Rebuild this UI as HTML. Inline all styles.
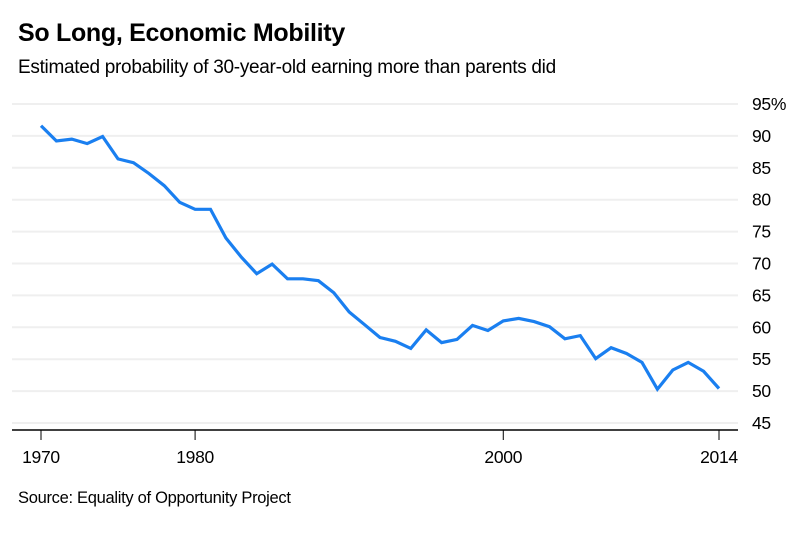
<!DOCTYPE html>
<html><head><meta charset="utf-8"><style>
body{margin:0;background:#fff;font-family:"Liberation Sans",sans-serif;}
#wrap{position:relative;width:808px;height:538px;overflow:hidden;}
.t{position:absolute;white-space:nowrap;color:#000;}
</style></head><body>
<div id="wrap">
<div class="t" style="left:18px;top:19px;font-size:25px;font-weight:bold;letter-spacing:-0.3px;">So Long, Economic Mobility</div>
<div class="t" style="left:18px;top:57px;font-size:19px;letter-spacing:-0.3px;">Estimated probability of 30-year-old earning more than parents did</div>
<svg id="chart" width="808" height="538" style="position:absolute;left:0;top:0"></svg>
<div class="t" style="left:18px;top:489px;font-size:16.5px;letter-spacing:-0.3px;">Source: Equality of Opportunity Project</div>
</div>
<script>
const years=[1970,1971,1972,1973,1974,1975,1976,1977,1978,1979,1980,1981,1982,1983,1984,1985,1986,1987,1988,1989,1990,1991,1992,1993,1994,1995,1996,1997,1998,1999,2000,2001,2002,2003,2004,2005,2006,2007,2008,2009,2010,2011,2012,2013,2014];
const values=[91.6,89.2,89.5,88.8,89.9,86.4,85.8,84.1,82.2,79.6,78.5,78.5,74.0,71.0,68.4,69.9,67.6,67.6,67.3,65.4,62.4,60.4,58.4,57.8,56.7,59.6,57.6,58.1,60.3,59.5,61.0,61.4,60.9,60.1,58.2,58.7,55.1,56.8,55.9,54.5,50.3,53.3,54.5,53.1,50.4];
const yTicks=[45,50,55,60,65,70,75,80,85,90,95];
const xTicks=[1970,1980,2000,2014];
const NS="http://www.w3.org/2000/svg";
const svg=document.getElementById('chart');
function x(v){return 41+(v-1970)*(719-41)/44;}
function y(v){return 423-(v-45)*(423-104)/50;}
function mk(tag,attrs){const e=document.createElementNS(NS,tag);for(const k in attrs)e.setAttribute(k,attrs[k]);svg.appendChild(e);return e;}
yTicks.forEach(t=>{
  const g=mk('line',{x1:12,x2:738,y1:y(t),y2:y(t),stroke:'#efefef','stroke-width':2});
  
  
  const l=mk('text',{x:752,y:y(t)+6,'font-size':17.5,fill:'#000','font-family':'Liberation Sans, sans-serif','letter-spacing':'-0.3'});
  l.textContent=t===95?'95%':String(t);
  
  
});
const ax=mk('line',{x1:12,x2:738,y1:430,y2:430,stroke:'#000','stroke-width':1.5});


xTicks.forEach(t=>{
  const tk=mk('line',{x1:x(t),x2:x(t),y1:430,y2:440,stroke:'#000','stroke-width':1});
  
  
  const l=mk('text',{x:x(t),y:463,'font-size':17.5,fill:'#000','text-anchor':'middle','font-family':'Liberation Sans, sans-serif','letter-spacing':'-0.3'});
  l.textContent=String(t);
  
  
});
const d=years.map((yr,i)=>(i?'L':'M')+x(yr).toFixed(1)+','+y(values[i]).toFixed(1)).join(' ');
const p=mk('path',{d:d,fill:'none',stroke:'#1a7ff0','stroke-width':3.2,'stroke-linejoin':'miter'});


</script>
</body></html>
